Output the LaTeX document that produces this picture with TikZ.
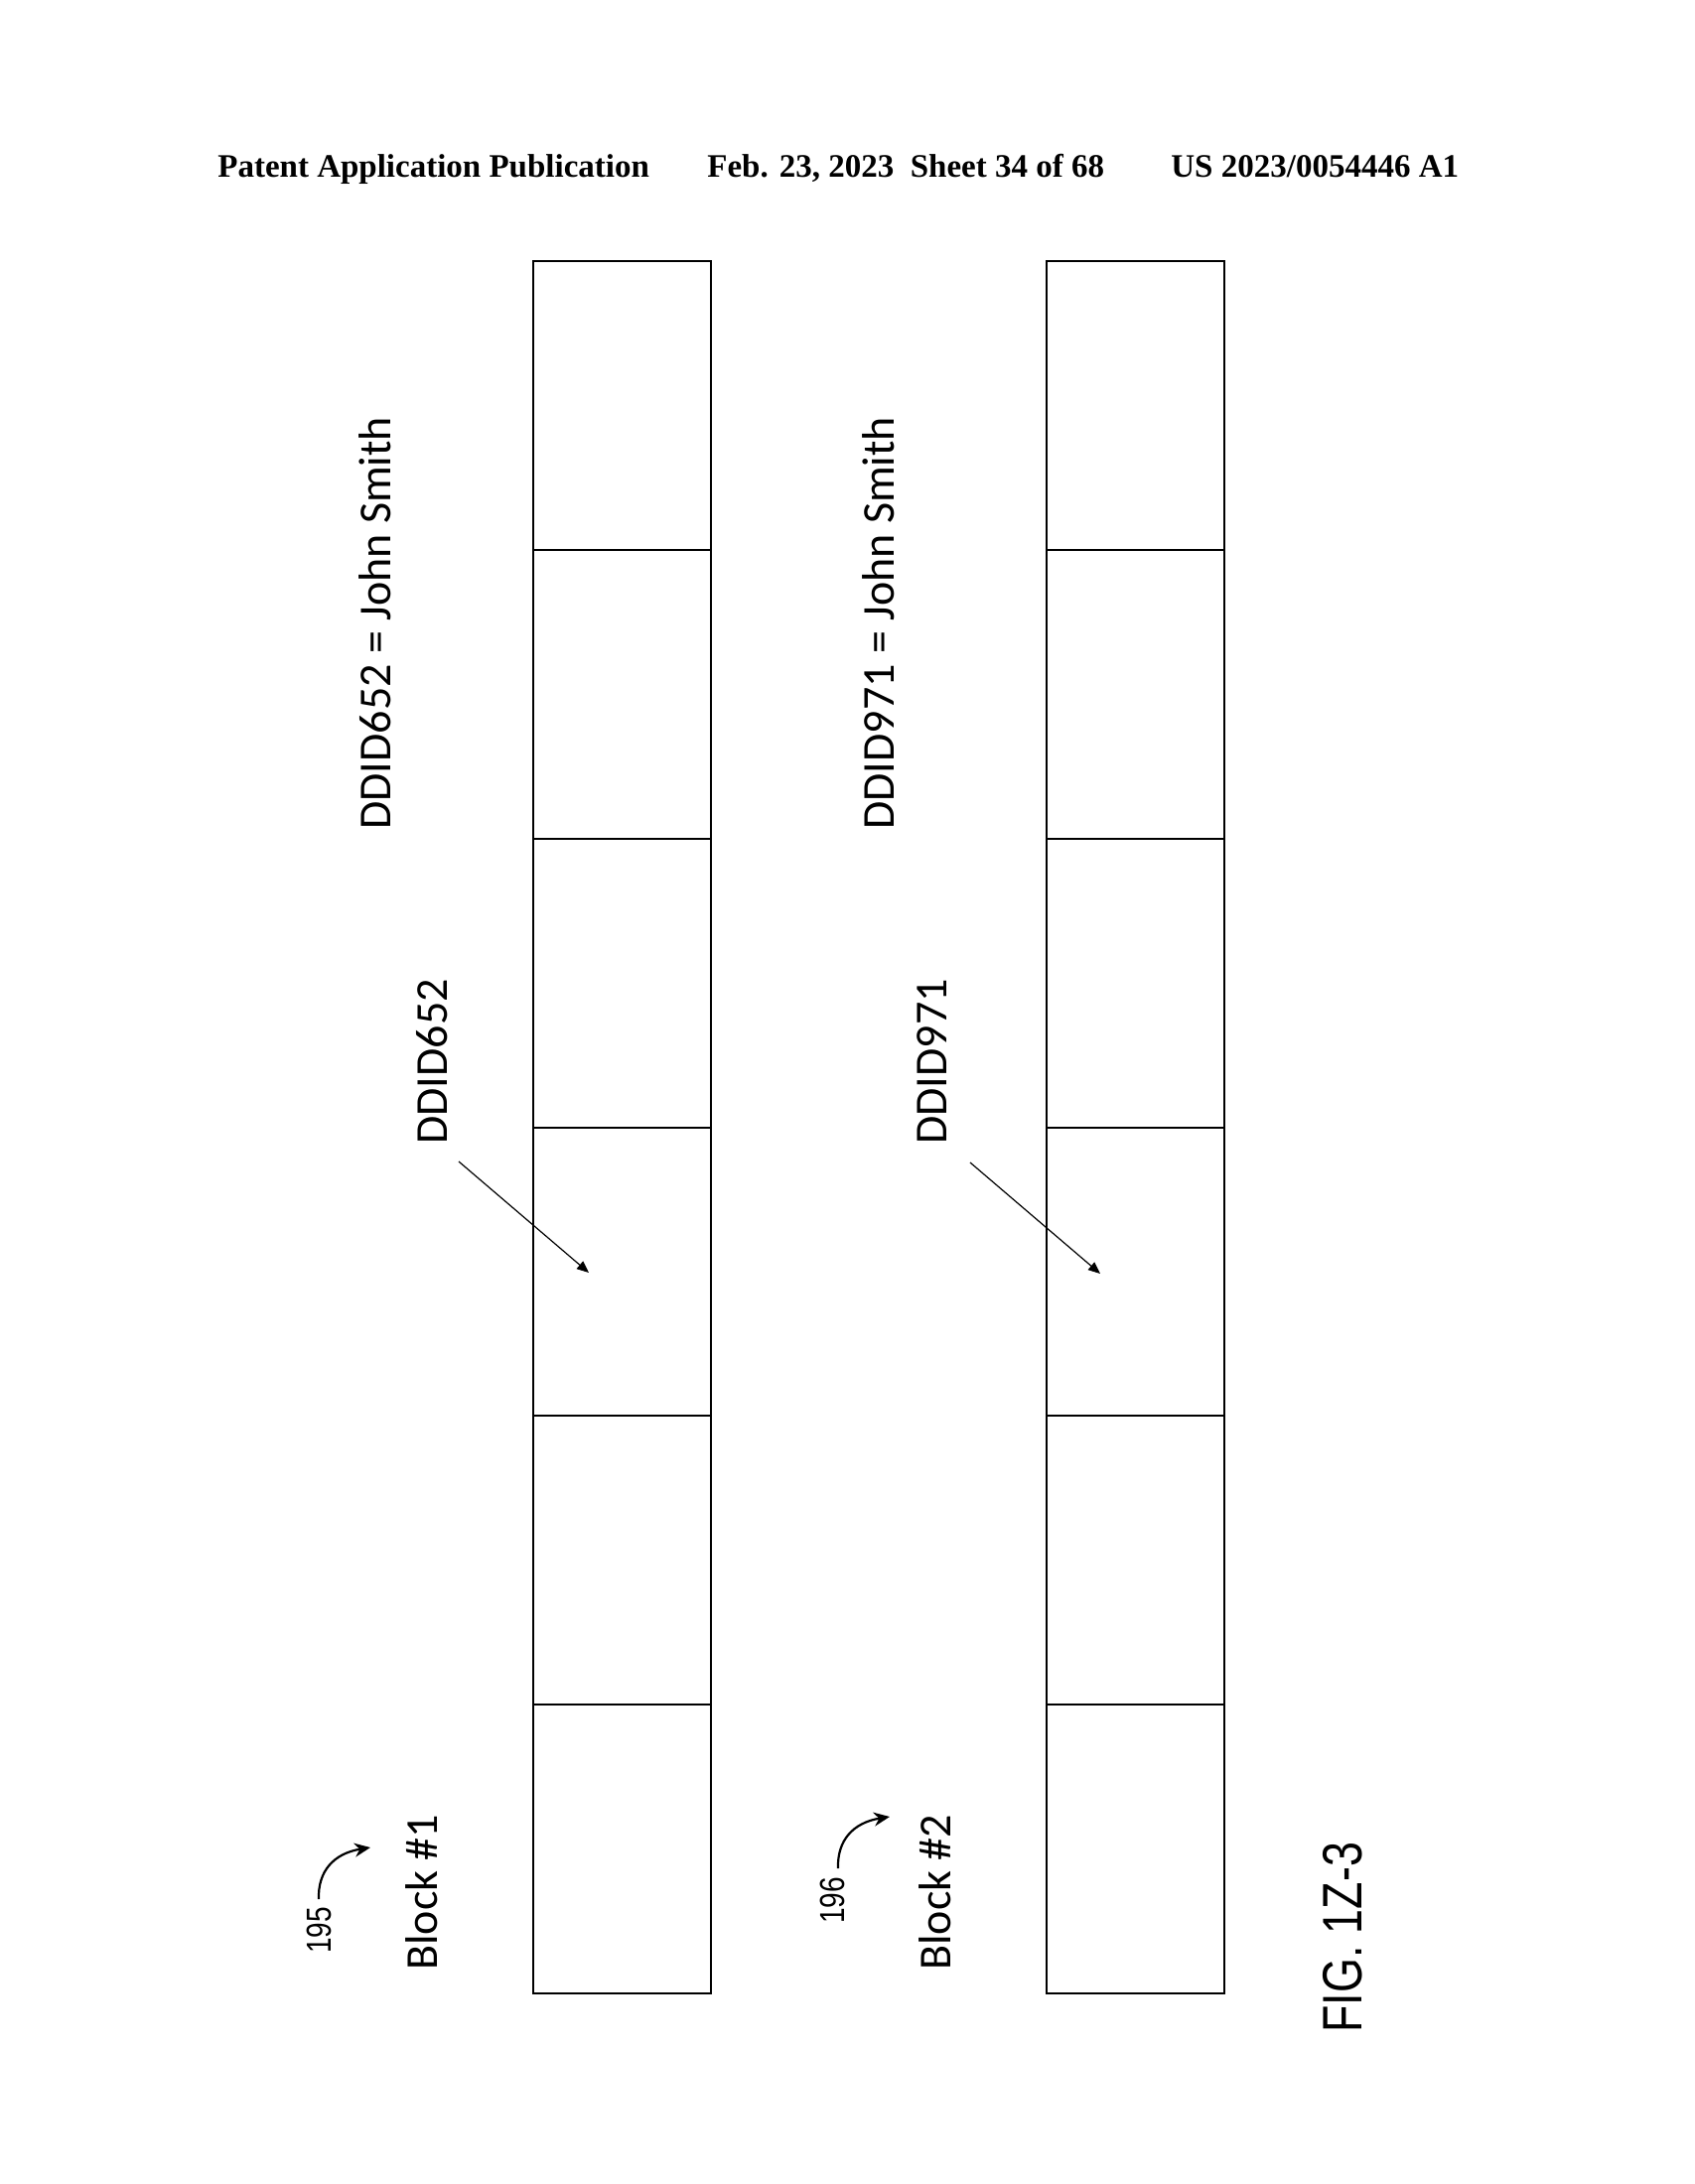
\documentclass[tikz,border=0pt]{standalone}
\usepackage{fontspec}
\usetikzlibrary{arrows.meta}
\newfontfamily\hdrfont{Liberation Serif}
\newfontfamily\lblfont{Carlito}
\newfontfamily\narrowfont[FakeStretch=0.8]{Liberation Sans}
\begin{document}
\begin{tikzpicture}[x=0.5pt,y=-0.5pt,
  cell/.style={draw, line width=1pt, minimum width=89.5pt, minimum height=145.42pt, inner sep=0pt, outer sep=0pt},
  hdr/.style={anchor=base west, inner sep=0pt, font=\hdrfont\bfseries\fontsize{16.5}{20}\selectfont},
  lbl/.style={rotate=90, anchor=base west, inner sep=0pt, font=\lblfont\fontsize{23}{28}\selectfont},
  refnum/.style={rotate=90, anchor=base west, inner sep=0pt, font=\narrowfont\fontsize{17.5}{21}\selectfont},
  fignum/.style={rotate=90, anchor=base west, inner sep=0pt, font=\narrowfont\fontsize{28}{32}\selectfont},
  ptr/.style={line width=0.6pt, -{Triangle[length=6pt,width=5pt]}},
  leader/.style={line width=1.1pt, -{Stealth[length=8pt,width=7pt]}}
]
\useasboundingbox (0,0) rectangle (1707,2200);
\fill[white] (0,0) rectangle (1707,2200);

% header
\node[hdr] (h1) at (219,178) {Patent Application Publication};
\node[hdr] (h2) at (712,178) {Feb. 23, 2023\ \ Sheet 34 of 68};
\node[hdr] (h3) at (1179,178) {US 2023/0054446 A1};

% blocks of cells
\foreach \i in {1,...,6} {
  \node[cell] (b1c\i) at (626, {263 + 290.83*(\i-0.5)}) {};
  \node[cell] (b2c\i) at (1143, {263 + 290.83*(\i-0.5)}) {};
}

% labels
\node[lbl] (t1) at (393,836) {DDID652 = John Smith};
\node[lbl] (t2) at (900,836) {DDID971 = John Smith};
\node[lbl] (d1) at (450,1153) {DDID652};
\node[lbl] (d2) at (953,1153) {DDID971};
\node[lbl] (k1) at (440,1985) {Block \#1};
\node[lbl] (k2) at (957,1985) {Block \#2};
\node[refnum] (r1) at (333,1968) {195};
\node[refnum] (r2) at (850,1938) {196};
\node[fignum] (fg) at (1371,2048) {FIG. 1Z-3};

% pointer arrows
\coordinate (p1s) at (462,1170);
\coordinate (p1e) at (593,1282);
\coordinate (p2s) at (977,1171);
\coordinate (p2e) at (1108,1283);
\draw[ptr] (p1s) -- (p1e);
\draw[ptr] (p2s) -- (p2e);

% reference leaders
\coordinate (c1s) at (321,1913);
\coordinate (c1e) at (373,1861);
\coordinate (c2s) at (844,1882);
\coordinate (c2e) at (896,1830);
\draw[leader] (c1s) .. controls (320,1885) and (336,1867) .. (c1e);
\draw[leader] (c2s) .. controls (843,1854) and (859,1836) .. (c2e);
\end{tikzpicture}
\end{document}
